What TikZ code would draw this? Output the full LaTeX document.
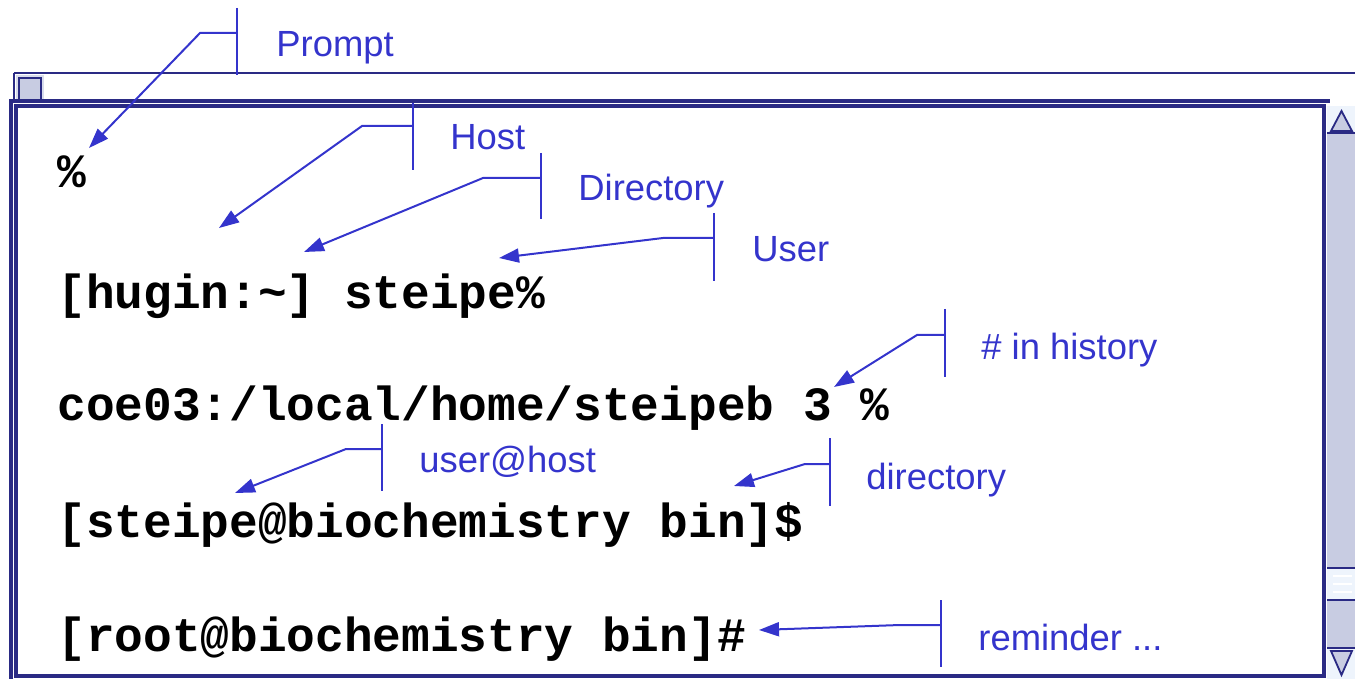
\documentclass[tikz,border=0pt]{standalone}
\usepackage{fontspec}
\setmainfont{Liberation Sans}
\newfontfamily\termfont{Liberation Mono}
\usetikzlibrary{arrows.meta, positioning}
\definecolor{termNavy}  {HTML}{2A2A84}
\definecolor{termBlue}  {HTML}{3434CC}
\definecolor{termTrack} {HTML}{C8CCE2}
\definecolor{termButton}{HTML}{EEF4FC}
\definecolor{termBand}  {HTML}{D8DCEC}
\tikzset{
  cmdline/.style = {anchor=base west, inner sep=0pt, text=black,
                    font=\termfont\bfseries\fontsize{23.9}{28}\selectfont},
  tag/.style     = {anchor=base west, inner sep=0pt, text=termBlue,
                    font=\fontsize{18.2}{22}\selectfont},
  bar/.style     = {draw=termBlue, line width=1pt},
  callout/.style = {-{Triangle[length=10pt, width=7pt]}, draw=termBlue,
                    line width=1pt},
  frame/.style   = {draw=termNavy, line width=1.6pt},
  thin/.style    = {draw=termNavy, line width=0.9pt},
}

\begin{document}
\begin{tikzpicture}[x=0.5pt, y=-0.5pt]
  \useasboundingbox (0,0) rectangle (1355,679);

  % window chrome
  \draw[thin] (14,73) -- (1355,73);
  \draw[thin] (14,73) -- (14,101);
  \fill[termBand] (16,75) rectangle (44,102);
  \draw[thin, fill=termTrack] (19,78) rectangle (41,100);
  \draw[frame] (11,679) -- (11,101) -- (1330,101);
  \draw[frame] (16,676) -- (16,106) -- (1324,106) -- (1324,676) -- cycle;

  % scroll bar
  \fill[termTrack] (1327,133) rectangle (1355,648);
  \fill[termButton] (1327,106) rectangle (1355,133);
  \fill[termButton] (1327,568) rectangle (1355,600);
  \fill[termButton] (1327,648) rectangle (1355,679);
  \draw[thin] (1327,133) -- (1355,133);
  \draw[thin] (1327,568) -- (1355,568);
  \draw[thin] (1327,600) -- (1355,600);
  \draw[thin] (1327,648) -- (1355,648);
  \foreach \y in {576,584,592}
    \draw[white, line width=1.2pt] (1333,\y) -- (1352,\y);
  \draw[thin, fill=termTrack] (1331,131) -- (1352,131) -- (1341.5,111) -- cycle;
  \draw[thin, fill=termTrack] (1331,651) -- (1352,651) -- (1341.5,675) -- cycle;

  % prompts
  \node[cmdline] (plain)  at (57,188) {\%};
  \node[cmdline] (mac)    at (57,308) {[hugin:\textasciitilde] steipe\%};
  \node[cmdline] (coe)    at (57,420) {coe03:/local/home/steipeb 3 \%};
  \node[cmdline] (user)   at (57,537) {[steipe@biochemistry bin]\$};
  \node[cmdline] (root)   at (57,651) {[root@biochemistry bin]\#};

  % labels
  \node[tag] (lPrompt)  at (276,57)  {Prompt};
  \node[tag] (lHost)    at (450,150) {Host};
  \node[tag] (lDir)     at (578,201) {Directory};
  \node[tag] (lUser)    at (752,262) {User};
  \node[tag] (lHist)    at (981,359) {\# in history};
  \node[tag] (lUH)      at (419,472) {user@host};
  \node[tag] (lDir2)    at (866,489) {directory};
  \node[tag] (lRemind)  at (978,650) {reminder ...};

  % callouts
  \coordinate (pA) at (237,8);   \coordinate (pB) at (237,75);
  \coordinate (pK) at (237,33);  \coordinate (pE) at (200,33);
  \coordinate (pT) at (89,148);
  \draw[bar] (pA) -- (pB);
  \draw[callout] (pK) -- (pE) -- (pT);

  \coordinate (hA) at (413,103); \coordinate (hB) at (413,170);
  \coordinate (hK) at (413,126); \coordinate (hE) at (362,126);
  \coordinate (hT) at (219,228);
  \draw[bar] (hA) -- (hB);
  \draw[callout] (hK) -- (hE) -- (hT);

  \coordinate (dA) at (541,153); \coordinate (dB) at (541,219);
  \coordinate (dK) at (541,178); \coordinate (dE) at (483,178);
  \coordinate (dT) at (304,252);
  \draw[bar] (dA) -- (dB);
  \draw[callout] (dK) -- (dE) -- (dT);

  \coordinate (uA) at (714,213); \coordinate (uB) at (714,281);
  \coordinate (uK) at (714,238); \coordinate (uE) at (663,238);
  \coordinate (uT) at (499,258);
  \draw[bar] (uA) -- (uB);
  \draw[callout] (uK) -- (uE) -- (uT);

  \coordinate (nA) at (945,309); \coordinate (nB) at (945,377);
  \coordinate (nK) at (945,335); \coordinate (nE) at (917,335);
  \coordinate (nT) at (834,387);
  \draw[bar] (nA) -- (nB);
  \draw[callout] (nK) -- (nE) -- (nT);

  \coordinate (wA) at (382,424); \coordinate (wB) at (382,491);
  \coordinate (wK) at (382,449); \coordinate (wE) at (346,449);
  \coordinate (wT) at (235,493);
  \draw[bar] (wA) -- (wB);
  \draw[callout] (wK) -- (wE) -- (wT);

  \coordinate (rA) at (830,438); \coordinate (rB) at (830,506);
  \coordinate (rK) at (830,464); \coordinate (rE) at (805,464);
  \coordinate (rT) at (734,486);
  \draw[bar] (rA) -- (rB);
  \draw[callout] (rK) -- (rE) -- (rT);

  \coordinate (mA) at (941,600); \coordinate (mB) at (941,667);
  \coordinate (mK) at (941,625); \coordinate (mE) at (900,625);
  \coordinate (mT) at (759,630);
  \draw[bar] (mA) -- (mB);
  \draw[callout] (mK) -- (mE) -- (mT);
\end{tikzpicture}
\end{document}
